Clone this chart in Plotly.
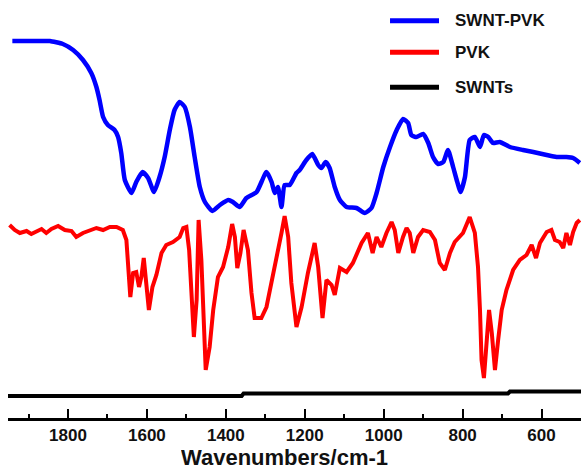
import plotly.graph_objects as go

# ---- data (y in arbitrary units) ----
wn_swnt_pvk = [1941, 1864, 1846, 1813, 1787, 1762, 1741, 1728, 1720, 1711, 1699, 1682, 1673, 1665,
               1656, 1639, 1627, 1611, 1597, 1582, 1568, 1555, 1542, 1530, 1517, 1504, 1491, 1479,
               1466, 1453, 1434, 1415, 1394, 1382, 1365, 1348, 1322, 1297, 1284, 1276, 1268, 1259,
               1251, 1238, 1221, 1213, 1196, 1181, 1166, 1158, 1147, 1137, 1124, 1111, 1094, 1069,
               1048, 1031, 1018, 1001, 984, 967, 951, 938, 930, 917, 900, 887, 875, 862, 849, 837,
               824, 815, 805, 794, 782, 769, 756, 746, 735, 723, 706, 680, 647, 621, 587, 562, 537,
               520, 503]
t_swnt_pvk = [377, 377, 377, 374, 368, 358, 345, 331, 318, 301, 293, 288, 281, 265,
              238, 225, 236, 246, 240, 226, 241, 261, 288, 308, 316, 311, 291, 261,
              231, 216, 207, 213, 218, 216, 211, 220, 226, 246, 236, 225, 231, 211,
              233, 233, 245, 248, 258, 264, 253, 250, 256, 250, 231, 218, 211, 210,
              205, 210, 225, 251, 271, 288, 299, 295, 283, 281, 284, 275, 261, 254, 256, 268,
              251, 238, 226, 241, 278, 281, 271, 283, 281, 275, 276, 271, 268, 266, 263, 261, 261,
              260, 255]

wn_pvk = [1948, 1935, 1922, 1905, 1893, 1880, 1867, 1855, 1842, 1825, 1808, 1791, 1779, 1762,
          1745, 1728, 1711, 1694, 1677, 1661, 1652, 1648, 1642, 1635, 1627, 1620, 1614, 1608,
          1601, 1595, 1586, 1576, 1563, 1551, 1534, 1517, 1508, 1500, 1493, 1487, 1481, 1474,
          1469, 1462, 1456, 1451, 1441, 1432, 1420, 1407, 1394, 1384, 1377, 1371, 1363, 1355,
          1344, 1335, 1327, 1310, 1297, 1284, 1272, 1259, 1251, 1242, 1234, 1225, 1221, 1208,
          1192, 1175, 1166, 1155, 1145, 1132, 1124, 1111, 1094, 1078, 1056, 1040, 1028, 1018,
          1006, 993, 980, 972, 963, 951, 942, 934, 925, 913, 900, 883, 870, 858, 845, 832, 820,
          799, 782, 769, 761, 756, 752, 746, 738, 733, 726, 718, 710, 701, 689, 672, 655, 638,
          625, 614, 604, 587, 575, 566, 554, 545, 537, 528, 520, 511, 503]
t_pvk = [193, 188, 185, 187, 184, 186, 189, 185, 189, 192, 188, 187, 181, 185,
         188, 190, 188, 191, 191, 188, 178, 151, 121, 145, 146, 131, 141, 160,
         131, 108, 131, 143, 165, 173, 176, 181, 190, 191, 168, 118, 81, 118,
         198, 158, 85, 48, 71, 108, 141, 151, 171, 194, 181, 150, 165, 188,
         168, 125, 100, 100, 111, 135, 158, 185, 202, 181, 135, 108, 91, 111,
         145, 175, 151, 100, 138, 133, 123, 150, 146, 155, 175, 185, 165, 181,
         171, 185, 196, 188, 165, 181, 190, 185, 165, 181, 188, 186, 178, 155, 148, 165, 176,
         185, 201, 185, 151, 108, 58, 40, 78, 108, 85, 48, 78, 108, 128, 148, 158, 163,
         173, 160, 175, 186, 188, 178, 176, 170, 185, 173, 186, 195, 198]

wn_swnts = [1952, 1360, 1355, 1172, 1166, 1160, 685, 680, 500]
t_swnts = [22, 22, 24.5, 24.5, 23.5, 24.5, 24.5, 26.5, 26.5]

series_names = ["SWNT-PVK", "PVK", "SWNTs"]
series_colors = ["#0000ff", "#ff0000", "#000000"]
x_ticks = [1800, 1600, 1400, 1200, 1000, 800, 600]
x_title = "Wavenumbers/cm-1"

fig = go.Figure()
fig.add_trace(go.Scatter(x=wn_swnt_pvk, y=t_swnt_pvk, mode="lines",
                         line=dict(color=series_colors[0], width=4.5, shape="spline", smoothing=0.5),
                         name=series_names[0]))
fig.add_trace(go.Scatter(x=wn_pvk, y=t_pvk, mode="lines",
                         line=dict(color=series_colors[1], width=4), name=series_names[1]))
fig.add_trace(go.Scatter(x=wn_swnts, y=t_swnts, mode="lines",
                         line=dict(color=series_colors[2], width=4), name=series_names[2]))

# manual legend
leg_y = [0.9505, 0.8749, 0.7911]
for name, col, yy in zip(series_names, series_colors, leg_y):
    fig.add_shape(type="line", xref="paper", yref="paper", x0=0.6667, x1=0.7522, y0=yy, y1=yy,
                  line=dict(color=col, width=5))
    fig.add_annotation(xref="paper", yref="paper", x=0.7766, y=yy, text=name, showarrow=False,
                       xanchor="left", yanchor="middle",
                       font=dict(family="Liberation Sans", size=17, color="#111111", weight="bold"))

# axis title
fig.add_annotation(xref="paper", yref="paper", x=0.4834, y=-0.0933, text=x_title, showarrow=False,
                   xanchor="center", yanchor="middle", borderpad=0, height=20, valign="middle",
                   font=dict(family="Liberation Sans", size=22, color="#111111", weight="bold"))

fig.update_layout(
    width=581, height=470,
    margin=dict(l=8, r=0, t=0, b=52),
    paper_bgcolor="white", plot_bgcolor="white",
    showlegend=False,
    xaxis=dict(range=[1952, 500], showgrid=False, zeroline=False,
               showline=True, linecolor="black", linewidth=3,
               tickmode="array", tickvals=x_ticks, ticktext=[str(v) for v in x_ticks],
               ticks="inside", ticklen=9, tickwidth=2, tickcolor="black",
               minor=dict(ticks="inside", ticklen=4, tickwidth=2, tickcolor="black",
                          tickmode="linear", tick0=500, dtick=100),
               tickfont=dict(family="Liberation Sans", size=17, color="#111111", weight="bold")),
    yaxis=dict(range=[0, 418], visible=False),
)

fig.write_html("out.html")
